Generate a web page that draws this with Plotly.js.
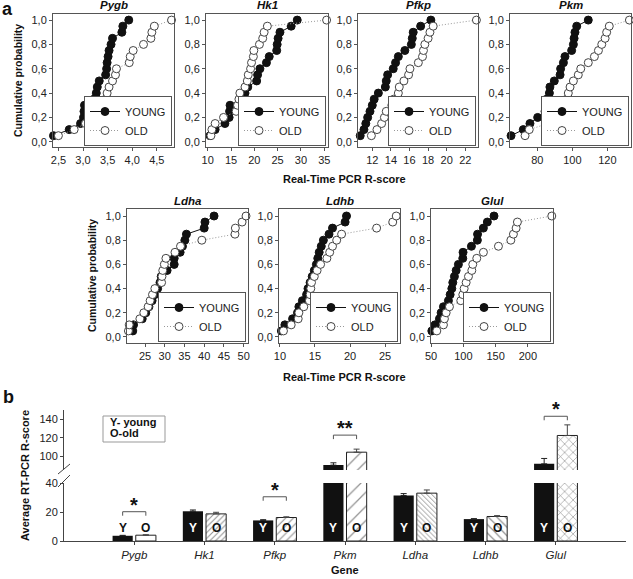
<!DOCTYPE html>
<html>
<head>
<meta charset="utf-8">
<script src="https://cdn.plot.ly/plotly-3.0.1.min.js"></script>
<style>
  html, body { margin: 0; padding: 0; background: #fff; }
  #chart { width: 633px; height: 579px; }
</style>
</head>
<body>
<div id="chart"></div>
<script>
// ---- data ----
const genes = ["Pygb", "Hk1", "Pfkp", "Pkm", "Ldha", "Ldhb", "Glul"];

// cumulative probability of each ranked sample (20 per group)
const cumProb = [0.05, 0.10, 0.15, 0.20, 0.25, 0.30, 0.35, 0.40, 0.45, 0.50,
                 0.55, 0.60, 0.65, 0.70, 0.75, 0.80, 0.85, 0.90, 0.95, 1.00];

// R-scores, sorted, young / old
const pygbYoung = [2.40, 2.72, 2.95, 3.01, 3.02, 3.03, 3.22, 3.27, 3.29, 3.33, 3.46, 3.48, 3.49, 3.51, 3.53, 3.57, 3.60, 3.79, 3.81, 3.93];
const pygbOld   = [2.50, 2.82, 3.05, 3.30, 3.40, 3.44, 3.46, 3.49, 3.53, 3.60, 3.66, 3.68, 3.94, 3.96, 4.02, 4.23, 4.38, 4.40, 4.45, 4.80];
const hk1Young  = [10.5, 11.6, 13.7, 14.6, 14.7, 14.8, 17.0, 18.0, 18.6, 20.5, 20.7, 21.2, 22.6, 23.2, 24.8, 24.9, 25.1, 25.5, 27.9, 29.2];
const hk1Old    = [10.7, 10.9, 11.6, 13.4, 16.1, 16.4, 16.7, 16.9, 18.0, 18.5, 18.7, 19.2, 19.4, 19.8, 19.9, 21.1, 21.8, 22.1, 22.8, 35.5];
const pfkpYoung = [10.7, 11.1, 11.3, 11.5, 11.75, 12.0, 12.2, 12.65, 13.4, 13.5, 13.65, 14.25, 14.5, 14.8, 15.5, 16.2, 16.3, 16.4, 17.2, 18.3];
const pfkpOld   = [11.9, 12.5, 13.0, 13.3, 13.5, 14.1, 14.3, 14.8, 14.9, 15.4, 15.9, 16.05, 16.95, 17.4, 17.5, 17.65, 18.0, 18.2, 18.55, 23.2];
const pkmYoung  = [65.0, 72.0, 75.8, 80.2, 84.4, 85.0, 85.3, 86.9, 87.2, 89.7, 93.0, 93.3, 94.9, 95.8, 99.6, 100.6, 101.0, 101.5, 102.5, 109.1];
const pkmOld    = [73.0, 75.4, 86.0, 89.0, 92.0, 94.9, 96.8, 97.7, 98.7, 100.6, 103.4, 104.8, 109.1, 112.6, 114.9, 116.8, 118.7, 119.6, 121.1, 132.6];
const ldhaYoung = [21.9, 22.1, 24.3, 25.2, 26.0, 26.8, 27.5, 28.2, 28.8, 29.1, 30.6, 32.4, 32.4, 33.9, 34.5, 35.1, 35.5, 40.0, 40.2, 42.5];
const ldhaOld   = [20.8, 21.0, 23.7, 24.7, 25.8, 26.3, 26.9, 27.5, 29.2, 29.3, 29.5, 29.9, 30.3, 32.6, 34.0, 39.4, 47.8, 47.9, 49.6, 50.6];
const ldhbYoung = [10.2, 10.7, 11.8, 12.5, 12.7, 13.2, 13.8, 14.0, 14.3, 14.6, 14.9, 15.2, 15.4, 15.6, 15.9, 16.2, 17.0, 17.5, 19.3, 19.5];
const ldhbOld   = [10.5, 11.6, 12.6, 12.7, 13.4, 14.2, 14.3, 14.4, 14.5, 14.9, 15.3, 15.8, 16.7, 17.1, 17.5, 18.1, 18.8, 23.8, 26.1, 26.6];
const glulYoung = [51.1, 56.0, 62.9, 65.5, 69.1, 76.8, 79.5, 82.1, 83.6, 86.1, 88.8, 92.3, 99.1, 99.5, 112.5, 121.7, 122.0, 131.0, 137.2, 147.5];
const glulOld   = [58.8, 69.1, 70.6, 73.3, 78.4, 96.0, 99.1, 101.2, 104.3, 107.9, 113.1, 114.6, 120.8, 131.1, 154.4, 173.6, 177.6, 181.8, 183.8, 237.1];

// panel b: mean R-score +/- SEM
const youngMean = [3.6, 20.5, 14.2, 90.3, 31.4, 15.1, 91.7];
const youngErr  = [0.3, 0.9, 0.5, 2.5, 1.3, 0.3, 5.8];
const oldMean   = [4.0, 18.7, 16.2, 104.3, 33.0, 16.9, 122.4];
const oldErr    = [0.3, 1.1, 0.5, 3.3, 2.2, 0.6, 11.5];
const sigLabels = ["*", "", "*", "**", "", "", "*"];

// ---- layout helpers ----
const W = 633, H = 579;
const FONT = "Liberation Sans, Arial, sans-serif";
const px = v => v / W;
const py = v => 1 - v / H;

const youngSets = [pygbYoung, hk1Young, pfkpYoung, pkmYoung, ldhaYoung, ldhbYoung, glulYoung];
const oldSets   = [pygbOld, hk1Old, pfkpOld, pkmOld, ldhaOld, ldhbOld, glulOld];

// plot boxes in pixels: [left, right, top, bottom]
const boxes = [
  [53, 174, 14, 147], [206, 328, 14, 147], [358, 478, 14, 147], [510, 631, 14, 147],
  [127, 248, 209, 343], [279, 400, 209, 343], [431, 553, 209, 343]
];
const xRanges = [[2.39, 4.85], [9.64, 35.8], [10.46, 23.37], [64.4, 133.5], [20.44, 51.1], [9.86, 27.14], [49.8, 239]];
const xDticks = [0.5, 5, 2, 20, 5, 5, 50];
const xFormats = [".1f", "", "", "", "", "", ""];

const layout = {
  width: W, height: H,
  margin: { l: 0, r: 0, t: 0, b: 0 },
  paper_bgcolor: "white", plot_bgcolor: "white",
  font: { family: FONT, size: 11, color: "#222" },
  separators: ",.",
  barmode: "group", bargap: 0.34, bargroupgap: 0.13,
  hovermode: false,
  annotations: [], shapes: []
};

// every text annotation is centred on its point
function note(o) {
  layout.annotations.push(Object.assign({ showarrow: false, xanchor: "center", yanchor: "middle" }, o));
}

const traces = [];
const axisStyle = {
  showline: true, linecolor: "#555", linewidth: 1, mirror: true,
  ticks: "outside", ticklen: 3, tickcolor: "#555",
  showgrid: false, zeroline: false,
  tickfont: { size: 11, color: "#222" }
};

genes.forEach((g, i) => {
  const k = i + 1;
  const sfx = k === 1 ? "" : String(k);
  const [l, r, t, b] = boxes[i];
  const top = i < 4;

  layout["xaxis" + sfx] = Object.assign({}, axisStyle, {
    domain: [px(l), px(r)], range: xRanges[i], dtick: xDticks[i], tick0: 0,
    tickformat: xFormats[i], anchor: "y" + sfx
  });
  layout["yaxis" + sfx] = Object.assign({}, axisStyle, {
    domain: [py(b), py(t)], range: top ? [-0.043, 1.05] : [-0.05, 1.058],
    tickvals: [0, 0.2, 0.4, 0.6, 0.8, 1.0], tickformat: ".1f", anchor: "x" + sfx
  });

  const legName = "legend" + sfx;
  layout[legName] = {
    x: px(r - 2), y: py(b - 1), xanchor: "right", yanchor: "bottom",
    bgcolor: "white", bordercolor: "#555", borderwidth: 1,
    font: { size: 11, color: "#222" }, tracegroupgap: 0, traceorder: "normal",
    itemwidth: 30
  };

  traces.push({
    type: "scatter", mode: "lines+markers", name: "YOUNG",
    x: youngSets[i], y: cumProb, xaxis: "x" + sfx, yaxis: "y" + sfx, legend: legName,
    line: { color: "#111", width: 1 },
    marker: { color: "#111", size: 8, line: { color: "#111", width: 1 } },
    cliponaxis: false
  });
  traces.push({
    type: "scatter", mode: "lines+markers", name: "OLD",
    x: oldSets[i], y: cumProb, xaxis: "x" + sfx, yaxis: "y" + sfx, legend: legName,
    line: { color: "#999", width: 1, dash: "1px,2px" },
    marker: { color: "white", size: 8, line: { color: "#444", width: 1 } },
    cliponaxis: false
  });

  note({
    xref: "paper", yref: "paper", x: px((l + r) / 2), y: py(top ? 5 : 201), text: g,
    font: { size: 11.5, weight: "bold", style: "italic", color: "#111" }
  });
});

// row titles
const titleFont = { size: 11, weight: "bold", color: "#111" };
[[344, 179], [344, 377]].forEach(([x, y]) => note({
  xref: "paper", yref: "paper", x: px(x), y: py(y), text: "Real-Time PCR R-score", font: titleFont
}));
[[18, 81], [92, 276]].forEach(([x, y]) => note({
  xref: "paper", yref: "paper", x: px(x), y: py(y), text: "Cumulative probability",
  textangle: -90, font: { size: 10.5, weight: "bold", color: "#111" }
}));

// ---- panel b: broken-axis bar chart ----
const barAxis = {
  showline: true, linecolor: "#444", linewidth: 1, mirror: false,
  ticks: "outside", ticklen: 3, tickcolor: "#444",
  showgrid: false, zeroline: false, tickfont: { size: 11, color: "#222" }
};
layout.xaxis8 = Object.assign({}, barAxis, {
  domain: [px(64), px(626)], anchor: "y8", type: "category",
  categoryorder: "array", categoryarray: genes, range: [-1, 7],
  tickfont: { size: 11.5, style: "italic", color: "#222" }
});
const lowTop = 483, lowBot = 541, upTop = 410, upBot = 470;
const lowRange = [0, 40], upRange = [85, 150];
layout.yaxis8 = Object.assign({}, barAxis, {
  domain: [py(lowBot), py(lowTop)], range: lowRange, tickvals: [0, 20, 40], anchor: "x8"
});
layout.yaxis9 = Object.assign({}, barAxis, {
  domain: [py(upBot), py(upTop)], range: upRange, tickvals: [100, 120, 140], anchor: "x8"
});

const zeros = genes.map(() => 0);
const oldPattern = {
  shape: ["", "/", "/", "/", "\\", "\\", "x"],
  size: [8, 4, 5.5, 10, 3.5, 6, 6],
  solidity: [0.2, 0.25, 0.2, 0.12, 0.28, 0.2, 0.2],
  fgcolor: "#222", bgcolor: "white", fillmode: "overlay"
};
["y8", "y9"].forEach(ya => {
  traces.push({
    type: "bar", x: genes, y: youngMean, xaxis: "x8", yaxis: ya, showlegend: false,
    marker: { color: "#111", line: { width: 0 } },
    error_y: { type: "data", symmetric: false, array: youngErr, arrayminus: zeros, color: "#222", thickness: 1, width: 3 }
  });
  traces.push({
    type: "bar", x: genes, y: oldMean, xaxis: "x8", yaxis: ya, showlegend: false,
    marker: { color: "white", line: { color: "#222", width: 1 }, pattern: oldPattern },
    error_y: { type: "data", symmetric: false, array: oldErr, arrayminus: zeros, color: "#444", thickness: 1, width: 3 }
  });
});

// Y / O letters on the bars
const slot = (1 - layout.bargap) / 2;
genes.forEach((g, i) => {
  note({
    xref: "x8", yref: "y8", x: i - slot / 2, y: 9, text: "Y",
    font: { size: 12, weight: "bold", color: youngMean[i] > 12 ? "white" : "#111" }
  });
  note({
    xref: "x8", yref: "y8", x: i + slot / 2, y: 9, text: "O",
    font: { size: 12, weight: "bold", color: "#111" }
  });
});

// significance brackets
const lowScale = (lowBot - lowTop) / (lowRange[1] - lowRange[0]);
const upScale = (upBot - upTop) / (upRange[1] - upRange[0]);
const bracketLevel = [20.2, 0, 30.5, 122.8, 0, 0, 143.2];
genes.forEach((g, i) => {
  if (!sigLabels[i]) return;
  const upper = bracketLevel[i] > lowRange[1];
  const ya = upper ? "y9" : "y8";
  const drop = 4 / (upper ? upScale : lowScale);
  const x0 = i - slot / 2, x1 = i + slot / 2, yt = bracketLevel[i];
  layout.shapes.push({
    type: "path", xref: "x8", yref: ya,
    path: `M ${x0},${yt - drop} L ${x0},${yt} L ${x1},${yt} L ${x1},${yt - drop}`,
    line: { color: "#555", width: 1 }
  });
  note({
    xref: "x8", yref: ya, x: i, y: yt, yshift: 7, text: sigLabels[i],
    font: { size: 20, weight: "bold", color: "#111" }
  });
});

// axis break marks
[[58, 474, 70, 464], [58, 487, 70, 475]].forEach(([a, b, c, d]) => layout.shapes.push({
  type: "line", xref: "paper", yref: "paper", x0: px(a), y0: py(b), x1: px(c), y1: py(d),
  line: { color: "#444", width: 1 }
}));

// key box
layout.shapes.push({
  type: "rect", xref: "paper", yref: "paper", x0: px(103), x1: px(165), y0: py(442), y1: py(416),
  line: { color: "#999", width: 1 }, fillcolor: "white"
});
[["Y- young", 422], ["O-old", 433]].forEach(([t, y]) => note({
  xref: "paper", yref: "paper", x: px(108), y: py(y), text: t, xanchor: "left",
  font: { size: 11, weight: "bold", color: "#111" }
}));

// panel b titles
note({
  xref: "paper", yref: "paper", x: px(25), y: py(476), text: "Average RT-PCR R-score",
  textangle: -90, font: titleFont
});
note({ xref: "paper", yref: "paper", x: px(345), y: py(570), text: "Gene", font: titleFont });

// panel letters
[["a", 7, 9], ["b", 8, 397]].forEach(([t, x, y]) => note({
  xref: "paper", yref: "paper", x: px(x), y: py(y), text: t,
  font: { size: 18, weight: "bold", color: "#111" }
}));

Plotly.newPlot("chart", traces, layout, { staticPlot: true, displayModeBar: false });
</script>
</body>
</html>
